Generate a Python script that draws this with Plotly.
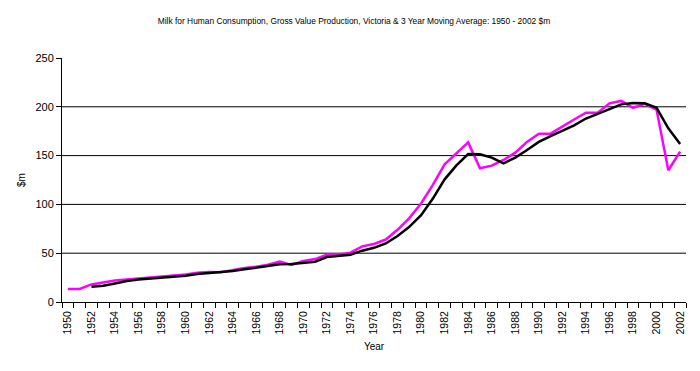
import plotly.graph_objects as go

years = list(range(1950, 2003))
gross_value = [13.3, 13.3, 18, 20, 22, 23, 24, 25, 25.6, 27,
               28.3, 30, 30.7, 30.4, 32.8, 34.8, 36.2, 38.2, 41.5, 38,
               42, 44, 48.5, 48.8, 50.5, 57, 59.5, 64, 74, 86,
               101, 120, 141, 152, 163.5, 137, 139.7, 145.5, 153, 164,
               172.5, 172.5, 180, 187, 194, 194, 203.5, 206, 199, 203,
               197, 135, 154]
moving_avg = [None, None, 15.7, 16.7, 19, 21.5, 23, 23.8, 24.6, 26,
              26.8, 28.7, 29.7, 30.2, 31.8, 33.5, 35.2, 36.9, 38.6, 38.9,
              40.3, 41.3, 46, 47.5, 48.5, 52.6, 55.5, 60, 67.6, 77,
              89, 106, 125.7, 140, 151.6, 151.3, 148, 142, 148, 155.7,
              164, 170, 175.5, 181, 188, 193, 198, 202.5, 204, 203.6,
              199, 178, 162]
x_tick_labels = [str(y) for y in years if y % 2 == 0]
y_ticks = [0, 50, 100, 150, 200, 250]
grid_values = [50, 100, 150, 200]

title = ("Milk for Human Consumption, Gross Value Production, Victoria &amp; "
         "3 Year Moving Average: 1950 - 2002 $m")

font_family = "Liberation Sans, Arial, sans-serif"

fig = go.Figure()
fig.add_trace(go.Scatter(x=years, y=gross_value, mode="lines",
                         line=dict(color="#FF00FF", width=2.5),
                         name="Gross Value"))
fig.add_trace(go.Scatter(x=years, y=moving_avg, mode="lines",
                         line=dict(color="#000000", width=2.5),
                         name="3 Year Moving Average", connectgaps=False))

for g in grid_values:
    fig.add_shape(type="line", xref="paper", x0=0, x1=1, yref="y", y0=g, y1=g,
                  line=dict(color="black", width=1), layer="below")

fig.update_layout(
    width=692, height=363,
    margin=dict(l=54, r=14, t=50, b=69),
    paper_bgcolor="white", plot_bgcolor="white",
    showlegend=False,
    font=dict(family=font_family, color="black"),
    title=dict(text=title, x=0.5, xanchor="center", y=0.965, yanchor="middle",
               font=dict(size=8.4, family=font_family, color="black")),
)

fig.update_xaxes(
    range=[1949.5, 2002.5],
    tickvals=[int(t) for t in x_tick_labels], ticktext=x_tick_labels,
    tickangle=-90, tickfont=dict(size=10.5),
    ticks="outside", ticklen=4, tickcolor="rgba(0,0,0,0)",
    minor=dict(tick0=1949.5, dtick=1, ticks="outside", ticklen=5,
               tickcolor="black", showgrid=False),
    showgrid=False, zeroline=False,
    showline=True, linecolor="black", linewidth=1,
    title=dict(text="Year", font=dict(size=10), standoff=9),
)

fig.update_yaxes(
    range=[0, 250], tickvals=y_ticks,
    tickfont=dict(size=11),
    ticks="outside", ticklen=5, tickcolor="black",
    showgrid=False, zeroline=False,
    showline=True, linecolor="black", linewidth=1,
    title=dict(text="$m", font=dict(size=10), standoff=7),
)

fig.write_html("out.html")
